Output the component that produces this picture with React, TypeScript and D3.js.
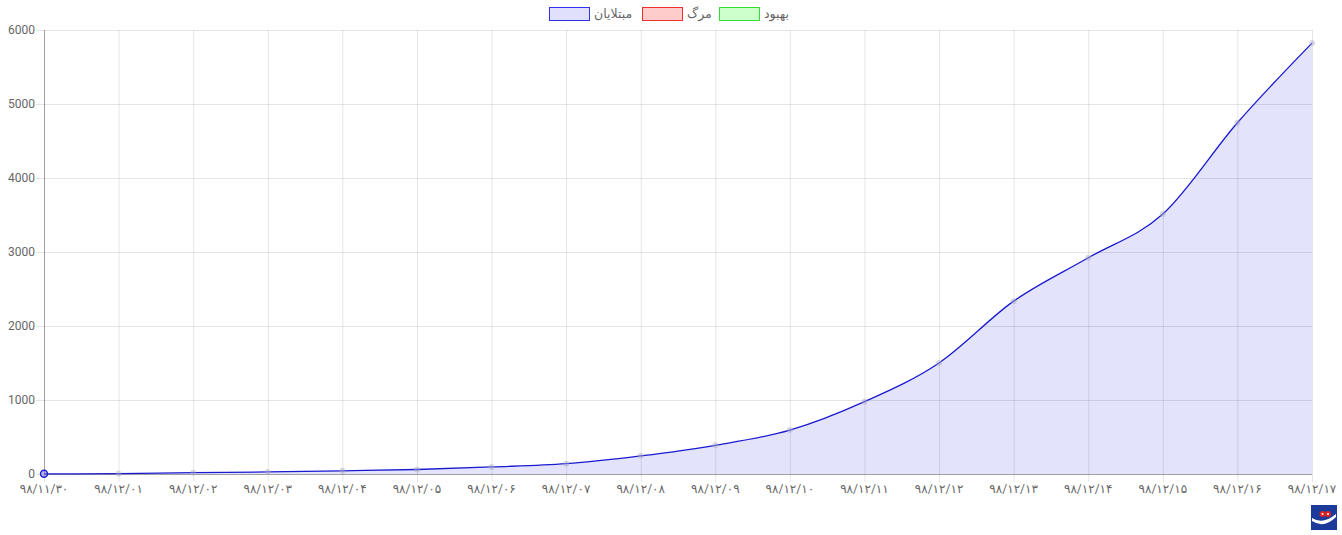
import { useEffect, useRef } from 'react';
import * as d3 from 'd3';

// dates (Persian calendar) and confirmed cases
const dates = [
  '۹۸/۱۱/۳۰', '۹۸/۱۲/۰۱', '۹۸/۱۲/۰۲', '۹۸/۱۲/۰۳', '۹۸/۱۲/۰۴', '۹۸/۱۲/۰۵',
  '۹۸/۱۲/۰۶', '۹۸/۱۲/۰۷', '۹۸/۱۲/۰۸', '۹۸/۱۲/۰۹', '۹۸/۱۲/۱۰', '۹۸/۱۲/۱۱',
  '۹۸/۱۲/۱۲', '۹۸/۱۲/۱۳', '۹۸/۱۲/۱۴', '۹۸/۱۲/۱۵', '۹۸/۱۲/۱۶', '۹۸/۱۲/۱۷',
];
const infected = [2, 5, 18, 28, 43, 61, 95, 139, 245, 388, 593, 978, 1501, 2336, 2922, 3513, 4747, 5823];
const yTicks = [0, 1000, 2000, 3000, 4000, 5000, 6000];

const legendItems = [
  { label: 'مبتلایان', stroke: '#3030f0', fill: 'rgba(0,0,230,0.12)' },
  { label: 'مرگ', stroke: '#f03030', fill: 'rgba(255,0,0,0.2)' },
  { label: 'بهبود', stroke: '#30e030', fill: 'rgba(0,255,0,0.2)' },
];

const FONT = 'Roboto, "DejaVu Sans", sans-serif';

export default function App() {
  const svgRef = useRef<SVGSVGElement>(null);
  const width = 1342;
  const height = 535;

  useEffect(() => {
    document.body.style.margin = '0';
    if (!svgRef.current) return;
    const svg = d3.select(svgRef.current);
    svg.selectAll('*').remove();

    const left = 44, right = 1312, top = 30, bottom = 474;

    const x = d3.scalePoint<string>().domain(dates).range([left, right]);
    const y = d3.scaleLinear().domain([0, 6000]).range([bottom, top]);

    // grid
    const grid = svg.append('g');
    grid.selectAll('.hg')
      .data(yTicks)
      .join('line')
      .attr('x1', left - 8)
      .attr('x2', right)
      .attr('y1', (d) => y(d) + 0.5)
      .attr('y2', (d) => y(d) + 0.5)
      .attr('stroke', 'rgba(0,0,0,0.1)');
    grid.selectAll('.vg')
      .data(dates)
      .join('line')
      .attr('x1', (d) => (x(d) || 0) + 0.5)
      .attr('x2', (d) => (x(d) || 0) + 0.5)
      .attr('y1', top)
      .attr('y2', bottom + 8)
      .attr('stroke', 'rgba(0,0,0,0.1)');

    // axis lines
    svg.append('line')
      .attr('x1', left + 0.5).attr('x2', left + 0.5)
      .attr('y1', top).attr('y2', bottom)
      .attr('stroke', 'rgba(0,0,0,0.3)');
    svg.append('line')
      .attr('x1', left).attr('x2', right)
      .attr('y1', bottom + 0.5).attr('y2', bottom + 0.5)
      .attr('stroke', 'rgba(0,0,0,0.3)');

    // tick labels
    svg.append('g')
      .selectAll('text')
      .data(yTicks)
      .join('text')
      .attr('x', left - 9)
      .attr('y', (d) => y(d))
      .attr('dy', '0.35em')
      .attr('text-anchor', 'end')
      .attr('font-family', FONT)
      .attr('font-size', '12px')
      .attr('fill', '#666')
      .text((d) => d);

    svg.append('g')
      .selectAll('text')
      .data(dates)
      .join('text')
      .attr('x', (d) => x(d) || 0)
      .attr('y', bottom + 19)
      .attr('text-anchor', 'middle')
      .attr('font-family', FONT)
      .attr('font-size', '12px')
      .attr('fill', '#666')
      .text((d) => d);

    const pts = dates.map((d, i) => ({ d, v: infected[i] }));

    // area + line
    const area = d3.area<{ d: string; v: number }>()
      .x((p) => x(p.d) || 0)
      .y0(bottom)
      .y1((p) => y(p.v))
      .curve(d3.curveMonotoneX);
    const line = d3.line<{ d: string; v: number }>()
      .x((p) => x(p.d) || 0)
      .y((p) => y(p.v))
      .curve(d3.curveMonotoneX);

    svg.append('path')
      .datum(pts)
      .attr('d', area)
      .attr('fill', 'rgba(0,0,230,0.11)');
    svg.append('path')
      .datum(pts)
      .attr('d', line)
      .attr('fill', 'none')
      .attr('stroke', '#1a1ad0')
      .attr('stroke-width', 1.3);

    svg.append('g')
      .selectAll('circle')
      .data(pts)
      .join('circle')
      .attr('cx', (p) => x(p.d) || 0)
      .attr('cy', (p) => y(p.v))
      .attr('r', 3)
      .attr('fill', 'rgba(170,170,200,0.45)');

    // highlighted first point
    svg.append('circle')
      .attr('cx', x(dates[0]) || 0)
      .attr('cy', y(infected[0]))
      .attr('r', 3.5)
      .attr('fill', 'rgba(0,0,230,0.15)')
      .attr('stroke', '#2020d0')
      .attr('stroke-width', 1.5);

    // legend
    const legendX = [549, 642, 719];
    const lg = svg.append('g');
    legendItems.forEach((it, i) => {
      lg.append('rect')
        .attr('x', legendX[i] + 0.5)
        .attr('y', 7.5)
        .attr('width', 40)
        .attr('height', 13)
        .attr('fill', it.fill)
        .attr('stroke', it.stroke);
      lg.append('text')
        .attr('x', legendX[i] + 45)
        .attr('y', 14)
        .attr('dy', '0.35em')
        .attr('font-family', FONT)
        .attr('font-size', '12.5px')
        .attr('fill', '#666')
        .text(it.label);
    });

    // logo
    const logo = svg.append('g').attr('transform', 'translate(1311,505)');
    logo.append('rect').attr('width', 26).attr('height', 25).attr('fill', '#1b3a9a');
    logo.append('path')
      .attr('d', 'M1,13 Q12,20 25,9 L25,12 Q13,24 1,16 Z')
      .attr('fill', '#ffffff');
    logo.append('circle').attr('cx', 11.5).attr('cy', 9).attr('r', 3).attr('fill', '#e02020');
    logo.append('circle').attr('cx', 17).attr('cy', 9).attr('r', 3).attr('fill', '#e02020');
    logo.append('circle').attr('cx', 11.5).attr('cy', 9).attr('r', 1).attr('fill', '#ffffff');
    logo.append('circle').attr('cx', 17).attr('cy', 9).attr('r', 1).attr('fill', '#ffffff');
  }, []);

  return <svg ref={svgRef} width={width} height={height} style={{ display: 'block' }} />;
}
